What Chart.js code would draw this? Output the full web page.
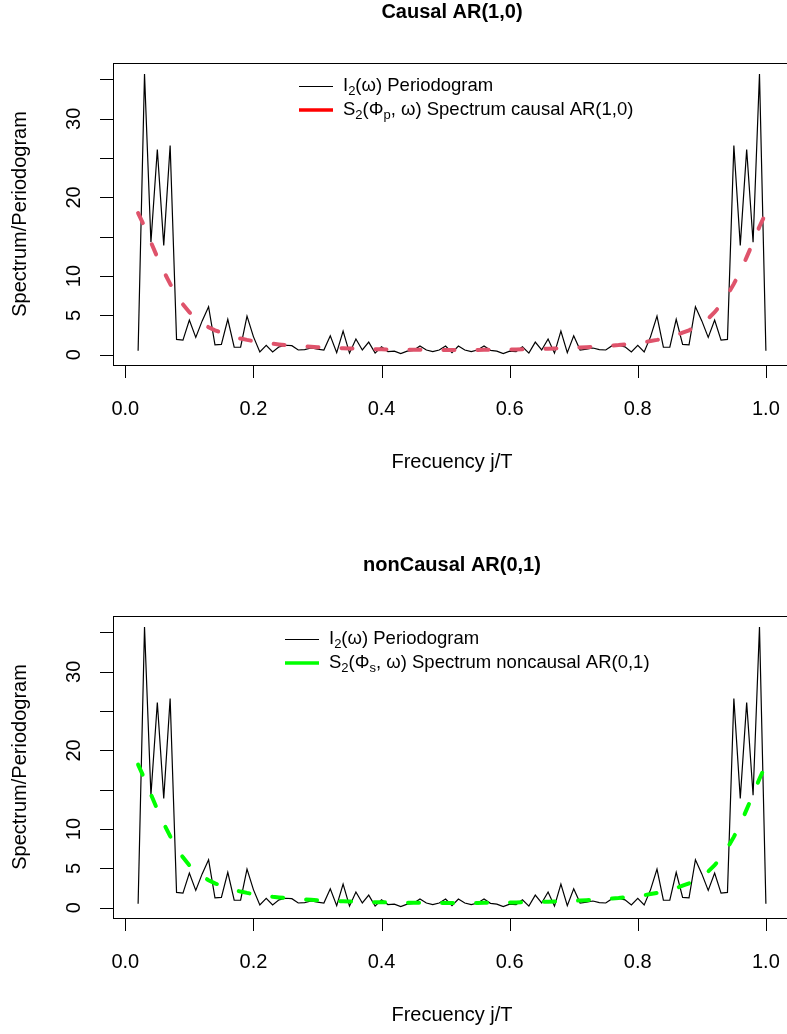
<!DOCTYPE html>
<html>
<head>
<meta charset="utf-8">
<script src="https://cdn.jsdelivr.net/npm/chart.js@4.4.1/dist/chart.umd.min.js"></script>
<style>
  html, body { margin: 0; padding: 0; background: #fff; overflow: hidden; }
  body { width: 787px; height: 1034px; position: relative; }
  .panel { position: absolute; left: 0; width: 800px; }
  #p1 { top: 0; }
  #p2 { top: 553px; }
</style>
</head>
<body>
<div class="panel" id="p1"><canvas id="c1" width="800" height="553"></canvas></div>
<div class="panel" id="p2"><canvas id="c2" width="800" height="481"></canvas></div>
<script>
// frecuencias j/T
const freq = [0.02,0.03,0.04,0.05,0.06,0.07,0.08,0.09,0.10,0.11,0.12,0.13,0.14,0.15,0.16,0.17,0.18,0.19,0.20,
  0.21,0.22,0.23,0.24,0.25,0.26,0.27,0.28,0.29,0.30,0.31,0.32,0.33,0.34,0.35,0.36,0.37,0.38,0.39,0.40,
  0.41,0.42,0.43,0.44,0.45,0.46,0.47,0.48,0.49,0.50,0.51,0.52,0.53,0.54,0.55,0.56,0.57,0.58,0.59,0.60,
  0.61,0.62,0.63,0.64,0.65,0.66,0.67,0.68,0.69,0.70,0.71,0.72,0.73,0.74,0.75,0.76,0.77,0.78,0.79,0.80,
  0.81,0.82,0.83,0.84,0.85,0.86,0.87,0.88,0.89,0.90,0.91,0.92,0.93,0.94,0.95,0.96,0.97,0.98,0.99,1.00];

// periodograma I2(w)
const periodogram = [0.5,35.7,14.3,26.1,13.9,26.6,1.95,1.85,4.4,2.2,4.3,6.1,1.25,1.3,4.5,0.95,0.95,4.9,2.3,
  0.35,1.2,0.35,1.0,1.2,1.15,0.6,0.65,0.85,0.7,0.6,2.4,0.25,3.0,0.2,2.0,0.6,1.6,0.2,1.0,
  0.4,0.45,0.15,0.45,0.55,1.1,0.6,0.4,0.6,1.1,0.25,1.1,0.6,0.4,0.6,1.1,0.55,0.45,0.15,0.45,
  0.4,1.0,0.2,1.6,0.6,2.0,0.2,3.0,0.25,2.4,0.6,0.7,0.85,0.65,0.6,1.15,1.2,1.0,0.35,1.2,
  0.35,2.3,4.9,0.95,0.95,4.5,1.3,1.25,6.1,4.3,2.2,4.4,1.85,1.95,26.6,13.9,26.1,14.3,35.7,0.5];

// espectro AR(1,0) causal
const spectrumCausal = [18.0,16.3,14.3,12.4,10.6,9.0,7.6,6.4,5.4,4.6,4.0,3.5,3.1,2.8,2.5,2.25,2.05,1.88,1.73,
  1.6,1.49,1.39,1.31,1.23,1.17,1.11,1.05,1.0,0.96,0.92,0.88,0.85,0.82,0.79,0.77,0.74,0.72,0.7,0.69,
  0.67,0.66,0.64,0.63,0.62,0.62,0.61,0.6,0.6,0.6,0.6,0.6,0.6,0.6,0.61,0.62,0.62,0.63,0.64,0.66,
  0.67,0.69,0.7,0.72,0.74,0.77,0.79,0.82,0.85,0.88,0.92,0.96,1.0,1.05,1.11,1.17,1.23,1.31,1.39,1.49,
  1.6,1.73,1.88,2.05,2.25,2.5,2.8,3.1,3.5,4.0,4.6,5.4,6.4,7.6,9.0,10.6,12.4,14.3,16.3,18.0];

// espectro AR(0,1) no causal
const spectrumNoncausal = [18.2,16.4,14.4,12.5,10.7,9.1,7.6,6.4,5.4,4.6,4.0,3.5,3.1,2.8,2.5,2.25,2.05,1.88,1.73,
  1.6,1.49,1.39,1.31,1.23,1.17,1.11,1.05,1.0,0.96,0.92,0.88,0.85,0.82,0.79,0.77,0.74,0.72,0.7,0.69,
  0.67,0.66,0.64,0.63,0.62,0.62,0.61,0.6,0.6,0.6,0.6,0.6,0.6,0.6,0.61,0.62,0.62,0.63,0.64,0.66,
  0.67,0.69,0.7,0.72,0.74,0.77,0.79,0.82,0.85,0.88,0.92,0.96,1.0,1.05,1.11,1.17,1.23,1.31,1.39,1.49,
  1.6,1.73,1.88,2.05,2.25,2.5,2.8,3.1,3.5,4.0,4.6,5.4,6.4,7.6,9.0,10.6,12.5,14.4,16.4,18.2];

const xTicks = [0, 0.2, 0.4, 0.6, 0.8, 1.0];
const xTickLabels = ['0.0', '0.2', '0.4', '0.6', '0.8', '1.0'];
const yTicks = [0, 5, 10, 15, 20, 25, 30, 35];
const yTickLabels = ['0', '5', '10', '', '20', '', '30', ''];

const FONT = '"Liberation Sans", Arial, Helvetica, sans-serif';

// texto con subindices: [texto, esSub]
function drawParts(ctx, parts, x, y, size) {
  let cx = x;
  parts.forEach(([t, sub]) => {
    const s = sub ? Math.round(size * 0.7) : size;
    ctx.font = s + 'px ' + FONT;
    ctx.fillText(t, cx, sub ? y + size * 0.3 : y);
    cx += ctx.measureText(t).width;
  });
}

// ejes y marco estilo R
const rFrame = {
  id: 'rFrame',
  afterDraw(chart, args, o) {
    const { ctx, chartArea: a, scales: { x, y } } = chart;
    ctx.save();
    ctx.strokeStyle = '#000';
    ctx.fillStyle = '#000';
    ctx.lineWidth = 1;
    ctx.strokeRect(Math.round(a.left) + 0.5, Math.round(a.top) + 0.5, a.right - a.left, a.bottom - a.top);

    const tick = 13;
    ctx.beginPath();
    xTicks.forEach(v => {
      const px = Math.round(x.getPixelForValue(v)) + 0.5;
      ctx.moveTo(px, a.bottom); ctx.lineTo(px, a.bottom + tick);
    });
    yTicks.forEach(v => {
      const py = Math.round(y.getPixelForValue(v)) + 0.5;
      ctx.moveTo(a.left, py); ctx.lineTo(a.left - tick, py);
    });
    ctx.stroke();

    ctx.textAlign = 'center';
    ctx.textBaseline = 'middle';
    ctx.font = '20px ' + FONT;
    xTicks.forEach((v, i) => ctx.fillText(xTickLabels[i], x.getPixelForValue(v), a.bottom + 44));
    yTicks.forEach((v, i) => {
      if (!yTickLabels[i]) return;
      ctx.save();
      ctx.translate(a.left - 39, y.getPixelForValue(v));
      ctx.rotate(-Math.PI / 2);
      ctx.fillText(yTickLabels[i], 0, 0);
      ctx.restore();
    });

    const midX = (a.left + a.right) / 2;
    ctx.fillText('Frecuency j/T', midX, a.bottom + 97);
    ctx.save();
    ctx.translate(20, (a.top + a.bottom) / 2);
    ctx.rotate(-Math.PI / 2);
    ctx.fillText('Spectrum/Periodogram', 0, 0);
    ctx.restore();

    ctx.font = 'bold 20px ' + FONT;
    ctx.fillText(o.title, midX, 12);

    // leyenda
    ctx.textAlign = 'left';
    ctx.lineWidth = 1.2;
    ctx.beginPath();
    ctx.moveTo(o.legX, 86.5); ctx.lineTo(o.legX + 34, 86.5);
    ctx.stroke();
    ctx.strokeStyle = o.legColor;
    ctx.lineWidth = 3.5;
    ctx.beginPath();
    ctx.moveTo(o.legX, 110); ctx.lineTo(o.legX + 34, 110);
    ctx.stroke();
    drawParts(ctx, [['I'], ['2', true], ['(ω) Periodogram']], o.legX + 44, 86, 18.5);
    drawParts(ctx, o.legText, o.legX + 44, 110, 18.5);
    ctx.restore();
  }
};

function makeChart(id, spectrum, lineColor, opts) {
  const ctx = document.getElementById(id).getContext('2d');
  const h = document.getElementById(id).height;
  return new Chart(ctx, {
    type: 'line',
    data: {
      datasets: [{
        data: freq.map((f, i) => ({ x: f, y: spectrum[i] })),
        borderColor: lineColor,
        borderWidth: 4,
        borderDash: [11, 23],
        borderCapStyle: 'round',
        pointRadius: 0,
        tension: 0,
        order: 0
      }, {
        data: freq.map((f, i) => ({ x: f, y: periodogram[i] })),
        borderColor: '#000',
        borderWidth: 1.2,
        pointRadius: 0,
        tension: 0,
        order: 1
      }]
    },
    options: {
      responsive: false,
      animation: false,
      devicePixelRatio: 1,
      layout: { padding: { left: 113, right: 9, top: 63, bottom: h - 365 } },
      scales: {
        x: { type: 'linear', min: -0.0192, max: 1.0392, display: false },
        y: { type: 'linear', min: -1.31, max: 37.09, display: false }
      },
      plugins: {
        legend: { display: false },
        tooltip: { enabled: false },
        rFrame: opts
      }
    },
    plugins: [rFrame]
  });
}

makeChart('c1', spectrumCausal, '#DF536B', {
  title: 'Causal AR(1,0)',
  legX: 299,
  legColor: '#FF0000',
  legText: [['S'], ['2', true], ['(Φ'], ['p', true], [', ω) Spectrum causal AR(1,0)']]
});
makeChart('c2', spectrumNoncausal, '#00FF00', {
  title: 'nonCausal AR(0,1)',
  legX: 285,
  legColor: '#00FF00',
  legText: [['S'], ['2', true], ['(Φ'], ['s', true], [', ω) Spectrum noncausal AR(0,1)']]
});
</script>
</body>
</html>
